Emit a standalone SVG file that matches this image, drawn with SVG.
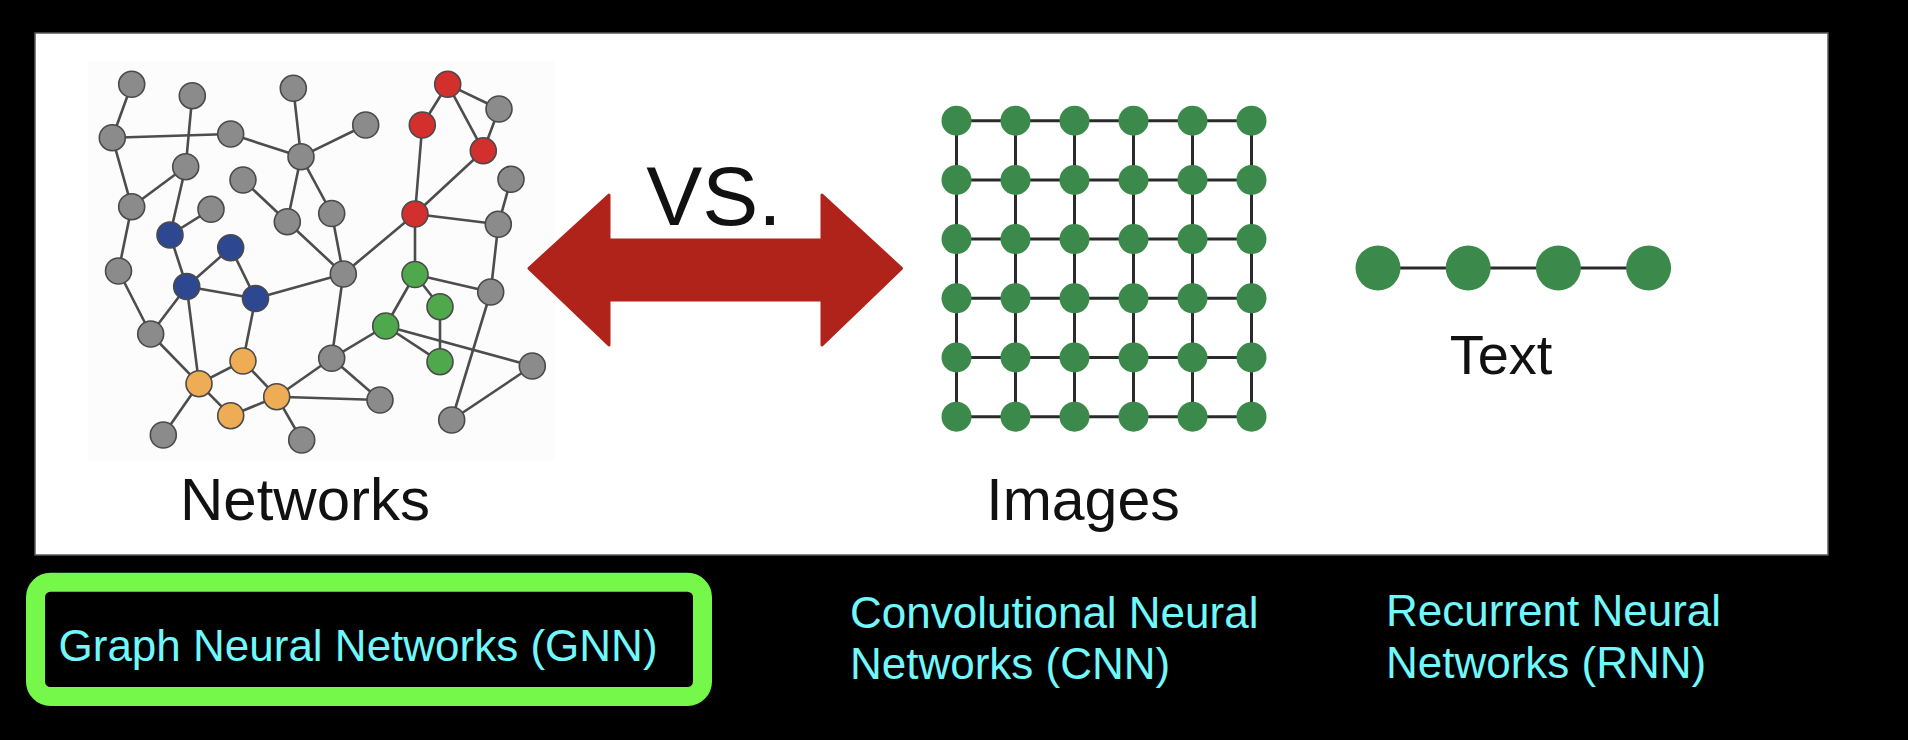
<svg xmlns="http://www.w3.org/2000/svg" width="1908" height="740" viewBox="0 0 1908 740">
<defs>
<style>
.e{stroke:#4d4d4d;stroke-width:2.6;fill:none;stroke-linecap:round}
.n{stroke:#4a4a4a;stroke-width:1.6}
.gy{fill:#8b8b8b}.rd{fill:#d3302d}.bl{fill:#2d4790}.or{fill:#eeac54}.gr{fill:#50a84c}
.gl{stroke:#2a2a2a;stroke-width:3;fill:none}
.gn{fill:#3c8a4b}
.lbl{font-family:"Liberation Sans",Arial,sans-serif;fill:#111}
.cy{font-family:"Liberation Sans",Arial,sans-serif;fill:#70f8fc;font-size:44px}
</style>
</defs>
<rect x="0" y="0" width="1908" height="740" fill="#000"/>
<rect id="panel" x="35" y="33" width="1793" height="522" fill="#fff" stroke="#5a5a5a" stroke-width="1.5"/>
<rect x="88" y="61" width="466" height="400" fill="#fcfcfc"/>

<g id="network-graph">
<g id="connectors">
<line class="e" x1="131.7" y1="84.3" x2="112.3" y2="137.7"/>
<line class="e" x1="112.3" y1="137.7" x2="230.7" y2="134"/>
<line class="e" x1="192.3" y1="95.7" x2="185.7" y2="166.7"/>
<line class="e" x1="230.7" y1="134" x2="301" y2="156.7"/>
<line class="e" x1="293.3" y1="88.3" x2="301" y2="156.7"/>
<line class="e" x1="301" y1="156.7" x2="365.7" y2="125"/>
<line class="e" x1="301" y1="156.7" x2="287.3" y2="221.7"/>
<line class="e" x1="301" y1="156.7" x2="331.7" y2="213.5"/>
<line class="e" x1="243" y1="180" x2="287.3" y2="221.7"/>
<line class="e" x1="112.3" y1="137.7" x2="131.7" y2="206.7"/>
<line class="e" x1="185.7" y1="166.7" x2="131.7" y2="206.7"/>
<line class="e" x1="185.7" y1="166.7" x2="170" y2="235"/>
<line class="e" x1="170" y1="235" x2="211" y2="209.3"/>
<line class="e" x1="170" y1="235" x2="186.7" y2="286.5"/>
<line class="e" x1="230.7" y1="247.7" x2="186.7" y2="286.5"/>
<line class="e" x1="230.7" y1="247.7" x2="255.5" y2="298.5"/>
<line class="e" x1="131.7" y1="206.7" x2="118.5" y2="271"/>
<line class="e" x1="287.3" y1="221.7" x2="343.3" y2="274"/>
<line class="e" x1="331.7" y1="213.5" x2="343.3" y2="274"/>
<line class="e" x1="255.5" y1="298.5" x2="343.3" y2="274"/>
<line class="e" x1="447.7" y1="84.3" x2="422.3" y2="125"/>
<line class="e" x1="447.7" y1="84.3" x2="499" y2="109"/>
<line class="e" x1="447.7" y1="84.3" x2="483.3" y2="150.7"/>
<line class="e" x1="499" y1="109" x2="483.3" y2="150.7"/>
<line class="e" x1="422.3" y1="125" x2="415" y2="214"/>
<line class="e" x1="483.3" y1="150.7" x2="415" y2="214"/>
<line class="e" x1="511" y1="179.3" x2="498.3" y2="224.3"/>
<line class="e" x1="415" y1="214" x2="498.3" y2="224.3"/>
<line class="e" x1="415" y1="214" x2="343.3" y2="274"/>
<line class="e" x1="415" y1="214" x2="415" y2="274.5"/>
<line class="e" x1="415" y1="274.5" x2="490.7" y2="292"/>
<line class="e" x1="498.3" y1="224.3" x2="490.7" y2="292"/>
<line class="e" x1="118.5" y1="271" x2="150.7" y2="334"/>
<line class="e" x1="186.7" y1="286.5" x2="150.7" y2="334"/>
<line class="e" x1="186.7" y1="286.5" x2="255.5" y2="298.5"/>
<line class="e" x1="186.7" y1="286.5" x2="199" y2="383.7"/>
<line class="e" x1="255.5" y1="298.5" x2="243" y2="361"/>
<line class="e" x1="150.7" y1="334" x2="199" y2="383.7"/>
<line class="e" x1="199" y1="383.7" x2="243" y2="361"/>
<line class="e" x1="243" y1="361" x2="276.7" y2="396.7"/>
<line class="e" x1="199" y1="383.7" x2="230.7" y2="415.7"/>
<line class="e" x1="230.7" y1="415.7" x2="276.7" y2="396.7"/>
<line class="e" x1="199" y1="383.7" x2="163.3" y2="435"/>
<line class="e" x1="276.7" y1="396.7" x2="331.7" y2="358.3"/>
<line class="e" x1="276.7" y1="396.7" x2="380" y2="400"/>
<line class="e" x1="276.7" y1="396.7" x2="301.7" y2="440"/>
<line class="e" x1="343.3" y1="274" x2="331.7" y2="358.3"/>
<line class="e" x1="415" y1="274.5" x2="440" y2="306.7"/>
<line class="e" x1="415" y1="274.5" x2="385.7" y2="326"/>
<line class="e" x1="440" y1="306.7" x2="440" y2="361.7"/>
<line class="e" x1="385.7" y1="326" x2="440" y2="361.7"/>
<line class="e" x1="385.7" y1="326" x2="532.3" y2="366"/>
<line class="e" x1="385.7" y1="326" x2="331.7" y2="358.3"/>
<line class="e" x1="331.7" y1="358.3" x2="380" y2="400"/>
<line class="e" x1="490.7" y1="292" x2="451.7" y2="420"/>
<line class="e" x1="532.3" y1="366" x2="451.7" y2="420"/>
</g>
<g id="graph-nodes" class="n">
<circle id="nA" class="gy" cx="131.7" cy="84.3" r="13"/>
<circle id="nB" class="gy" cx="192.3" cy="95.7" r="13"/>
<circle id="nC" class="gy" cx="293.3" cy="88.3" r="13"/>
<circle id="nD" class="gy" cx="112.3" cy="137.7" r="13"/>
<circle id="nE" class="gy" cx="230.7" cy="134" r="13"/>
<circle id="nF" class="gy" cx="301" cy="156.7" r="13"/>
<circle id="nG" class="gy" cx="185.7" cy="166.7" r="13"/>
<circle id="nH" class="gy" cx="243" cy="180" r="13"/>
<circle id="nI" class="gy" cx="131.7" cy="206.7" r="13"/>
<circle id="nJ" class="gy" cx="211" cy="209.3" r="13"/>
<circle id="nK" class="gy" cx="287.3" cy="221.7" r="13"/>
<circle id="nL" class="gy" cx="331.7" cy="213.5" r="13"/>
<circle id="nQ" class="gy" cx="365.7" cy="125" r="13"/>
<circle id="nR1" class="rd" cx="447.7" cy="84.3" r="13"/>
<circle id="nP" class="gy" cx="499" cy="109" r="13"/>
<circle id="nR2" class="rd" cx="422.3" cy="125" r="13"/>
<circle id="nR3" class="rd" cx="483.3" cy="150.7" r="13"/>
<circle id="nS" class="gy" cx="511" cy="179.3" r="13"/>
<circle id="nR4" class="rd" cx="415" cy="214" r="13"/>
<circle id="nT" class="gy" cx="498.3" cy="224.3" r="13"/>
<circle id="nB1" class="bl" cx="170" cy="235" r="13"/>
<circle id="nB2" class="bl" cx="230.7" cy="247.7" r="13"/>
<circle id="nM" class="gy" cx="118.5" cy="271" r="13"/>
<circle id="nN" class="gy" cx="343.3" cy="274" r="13"/>
<circle id="nG1" class="gr" cx="415" cy="274.5" r="13"/>
<circle id="nB3" class="bl" cx="186.7" cy="286.5" r="13"/>
<circle id="nU" class="gy" cx="490.7" cy="292" r="13"/>
<circle id="nB4" class="bl" cx="255.5" cy="298.5" r="13"/>
<circle id="nG2" class="gr" cx="440" cy="306.7" r="13"/>
<circle id="nG3" class="gr" cx="385.7" cy="326" r="13"/>
<circle id="nV" class="gy" cx="150.7" cy="334" r="13"/>
<circle id="nY" class="gy" cx="331.7" cy="358.3" r="13"/>
<circle id="nO1" class="or" cx="243" cy="361" r="13"/>
<circle id="nG4" class="gr" cx="440" cy="361.7" r="13"/>
<circle id="nAA" class="gy" cx="532.3" cy="366" r="13"/>
<circle id="nO2" class="or" cx="199" cy="383.7" r="13"/>
<circle id="nO3" class="or" cx="276.7" cy="396.7" r="13"/>
<circle id="nZ" class="gy" cx="380" cy="400" r="13"/>
<circle id="nO4" class="or" cx="230.7" cy="415.7" r="13"/>
<circle id="nBB" class="gy" cx="451.7" cy="420" r="13"/>
<circle id="nW" class="gy" cx="163.3" cy="435" r="13"/>
<circle id="nX" class="gy" cx="301.7" cy="440" r="13"/>
</g>
<text class="lbl" x="305" y="519.5" font-size="60" text-anchor="middle">Networks</text>
</g>

<g id="vs-arrow">
<path d="M529,268.3 L609,195 L609,240 L822,240 L822,195 L901.5,268.3 L822,345 L822,300 L609,300 L609,345 Z" fill="#b0231a" stroke="#b0231a" stroke-width="3" stroke-linejoin="round"/>
<text class="lbl" x="714" y="225" font-size="84" text-anchor="middle">VS.</text>
</g>

<g id="image-grid">
<g class="gl">
<path d="M956.5,120.7H1251.5M956.5,179.9H1251.5M956.5,239.1H1251.5M956.5,298.3H1251.5M956.5,357.5H1251.5M956.5,416.7H1251.5"/>
<path d="M956.5,120.7V416.7M1015.5,120.7V416.7M1074.5,120.7V416.7M1133.5,120.7V416.7M1192.5,120.7V416.7M1251.5,120.7V416.7"/>
</g>
<g class="gn">
<circle cx="956.5" cy="120.7" r="15"/><circle cx="1015.5" cy="120.7" r="15"/><circle cx="1074.5" cy="120.7" r="15"/><circle cx="1133.5" cy="120.7" r="15"/><circle cx="1192.5" cy="120.7" r="15"/><circle cx="1251.5" cy="120.7" r="15"/>
<circle cx="956.5" cy="179.9" r="15"/><circle cx="1015.5" cy="179.9" r="15"/><circle cx="1074.5" cy="179.9" r="15"/><circle cx="1133.5" cy="179.9" r="15"/><circle cx="1192.5" cy="179.9" r="15"/><circle cx="1251.5" cy="179.9" r="15"/>
<circle cx="956.5" cy="239.1" r="15"/><circle cx="1015.5" cy="239.1" r="15"/><circle cx="1074.5" cy="239.1" r="15"/><circle cx="1133.5" cy="239.1" r="15"/><circle cx="1192.5" cy="239.1" r="15"/><circle cx="1251.5" cy="239.1" r="15"/>
<circle cx="956.5" cy="298.3" r="15"/><circle cx="1015.5" cy="298.3" r="15"/><circle cx="1074.5" cy="298.3" r="15"/><circle cx="1133.5" cy="298.3" r="15"/><circle cx="1192.5" cy="298.3" r="15"/><circle cx="1251.5" cy="298.3" r="15"/>
<circle cx="956.5" cy="357.5" r="15"/><circle cx="1015.5" cy="357.5" r="15"/><circle cx="1074.5" cy="357.5" r="15"/><circle cx="1133.5" cy="357.5" r="15"/><circle cx="1192.5" cy="357.5" r="15"/><circle cx="1251.5" cy="357.5" r="15"/>
<circle cx="956.5" cy="416.7" r="15"/><circle cx="1015.5" cy="416.7" r="15"/><circle cx="1074.5" cy="416.7" r="15"/><circle cx="1133.5" cy="416.7" r="15"/><circle cx="1192.5" cy="416.7" r="15"/><circle cx="1251.5" cy="416.7" r="15"/>
</g>
<text class="lbl" x="1083" y="519.5" font-size="59" text-anchor="middle">Images</text>
</g>

<g id="text-chain">
<line class="gl" x1="1378" y1="268" x2="1648.6" y2="268"/>
<g class="gn">
<circle cx="1378" cy="268" r="22.5"/><circle cx="1468.2" cy="268" r="22.5"/><circle cx="1558.4" cy="268" r="22.5"/><circle cx="1648.6" cy="268" r="22.5"/>
</g>
<text class="lbl" x="1501" y="374" font-size="56" text-anchor="middle">Text</text>
</g>

<g id="gnn-label">
<rect x="35.5" y="582.2" width="667" height="114.3" rx="15" fill="none" stroke="#76f84b" stroke-width="19"/>
<text class="cy" x="58.5" y="661">Graph Neural Networks (GNN)</text>
</g>
<g id="cnn-label">
<text class="cy" x="850" y="627.7">Convolutional Neural</text>
<text class="cy" x="850" y="679.3">Networks (CNN)</text>
</g>
<g id="rnn-label">
<text class="cy" x="1386" y="626">Recurrent Neural</text>
<text class="cy" x="1386" y="677.7">Networks (RNN)</text>
</g>
</svg>
